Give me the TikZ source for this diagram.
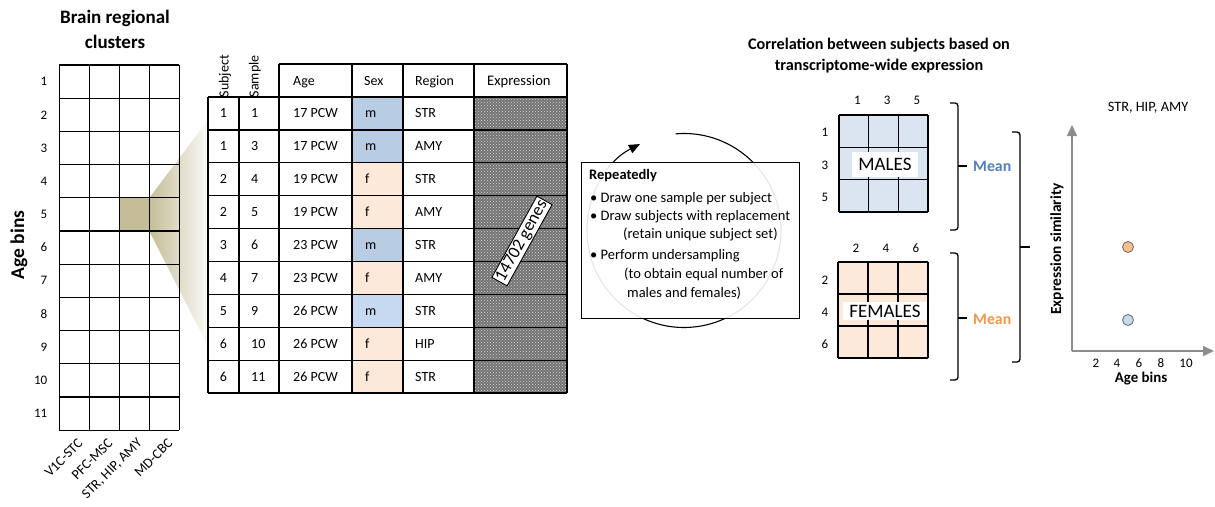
\documentclass[tikz,border=0pt]{standalone}
\usepackage{fontspec}
\setmainfont{Carlito}
\usepackage{xcolor}
\usepackage{tikz}
\usetikzlibrary{arrows.meta}
\usetikzlibrary{patterns}

\definecolor{maleblue}{RGB}{184,204,228}
\definecolor{malelight}{RGB}{198,217,241}
\definecolor{femalepeach}{RGB}{253,233,217}
\definecolor{matblue}{RGB}{219,229,241}
\definecolor{olivecell}{RGB}{196,189,151}
\definecolor{meanblue}{RGB}{79,129,189}
\definecolor{meanorange}{RGB}{247,150,70}
\definecolor{dotorange}{RGB}{250,191,143}
\definecolor{axisgray}{RGB}{140,140,140}

\begin{document}
\begin{tikzpicture}[
  x=1pt, y=-1pt,
  gridline/.style={line width=1.3pt},
  numlbl/.style={font=\fontsize{13}{15}\selectfont, inner sep=0pt},
  celltxt/.style={font=\fontsize{14}{16}\selectfont, inner sep=0pt, anchor=base west, yshift=-4.5pt},
  headtxt/.style={font=\fontsize{19}{25}\selectfont\bfseries, align=center, inner sep=0pt},
  boldlbl/.style={font=\fontsize{16.2}{21}\selectfont\bfseries, align=center, inner sep=0pt},
  steptxt/.style={font=\fontsize{14.5}{16}\selectfont, inner sep=0pt, anchor=base west, yshift=-4.6pt},
  brace/.style={line width=1.3pt, rounded corners=3pt},
  meantxt/.style={font=\fontsize{15.8}{17}\selectfont\bfseries, inner sep=0pt, anchor=west},
  matlabel/.style={fill=white, inner sep=0pt, font=\fontsize{19}{21}\selectfont},
  axis/.style={draw=axisgray, line width=1.4pt, -{Triangle[length=11pt, width=10pt]}},
  simdot/.style={circle, draw=black!60, line width=0.8pt, minimum size=11pt, inner sep=0pt},
]

\useasboundingbox [fill=white] (0,0) rectangle (1215,506);

% age bins x brain regions
\fill [olivecell] (119.3,198) rectangle (149.3,231.2);
\shade [left color=olivecell, right color=olivecell!8] (149.3,198) -- (208,120) -- (208,346) -- (149.3,231.2) -- cycle;
\foreach \i in {0,...,11}
  \draw [gridline] (59.3,65+33.2*\i) -- (179.3,65+33.2*\i);
\foreach \j in {0,...,4}
  \draw [gridline] (59.3+30*\j,65) -- (59.3+30*\j,430.2);
\foreach \i in {1,...,11}
  \node [numlbl, anchor=east] (bin\i) at (47.5,65+33.2*\i-16.6) {\i};
\foreach \name [count=\j] in {V1C-STC,PFC-MSC,{STR, HIP, AMY},MD-CBC}
  \node [numlbl, font=\fontsize{14}{16}\selectfont, rotate=45, anchor=east] (clus\j) at (50.3+30*\j,441) {\name};
\node [headtxt] (brain) at (115,29) {Brain regional\\clusters};
\node [headtxt, font=\fontsize{19.5}{22}\selectfont\bfseries, rotate=90] (agebins) at (19,245) {Age bins};

% sample table
\fill [black!55] (474,97) rectangle (567,393.1);
\fill [pattern=crosshatch dots, pattern color=white!85!black] (474,97) rectangle (567,393.1);
\foreach \subj/\samp/\age/\sex/\reg/\sexcol [count=\r] in {
  1/1/17/m/STR/maleblue, 1/3/17/m/AMY/maleblue, 2/4/19/f/STR/femalepeach,
  2/5/19/f/AMY/femalepeach, 3/6/23/m/STR/maleblue, 4/7/23/f/AMY/femalepeach,
  5/9/26/m/STR/malelight, 6/10/26/f/HIP/femalepeach, 6/11/26/f/STR/femalepeach}
{
  \fill [fill=\sexcol] (352,97+32.9*\r-32.9) rectangle (403,97+32.9*\r);
  \node [celltxt, anchor=base] (subj\r) at (223.5,97+32.9*\r-16.45) {\subj};
  \node [celltxt] (samp\r) at (251,97+32.9*\r-16.45) {\samp};
  \node [celltxt] (age\r) at (293,97+32.9*\r-16.45) {\age{} PCW};
  \node [celltxt] (sex\r) at (365,97+32.9*\r-16.45) {\sex};
  \node [celltxt] (reg\r) at (415,97+32.9*\r-16.45) {\reg};
}
\foreach \k in {0,...,9}
  \draw [gridline] (208,97+32.9*\k) -- (567,97+32.9*\k);
\draw [gridline] (279,64) -- (567,64);
\foreach \xx in {208,239}
  \draw [gridline] (\xx,97) -- (\xx,393.1);
\foreach \xx in {279,352,403,474,567}
  \draw [gridline] (\xx,64) -- (\xx,393.1);
\node [celltxt] (hage) at (293,80.5) {Age};
\node [celltxt] (hsex) at (364,80.5) {Sex};
\node [celltxt] (hreg) at (415,80.5) {Region};
\node [celltxt, font=\fontsize{14.6}{16}\selectfont] (hexpr) at (487,80.5) {Expression};
\node [celltxt, anchor=west, yshift=0pt, rotate=90] (hsubj) at (225,93) {Subject};
\node [celltxt, anchor=west, yshift=0pt, rotate=90] (hsamp) at (255,93) {Sample};
\node [draw, fill=white, line width=0.9pt, inner sep=1.5pt, rotate=61,
  font=\fontsize{17.5}{19}\selectfont] (genes) at (522,241) {14702 genes};

% resampling loop
\coordinate (loopc) at (684,230.5);
\draw [line width=1.1pt, -{Triangle[length=11pt, width=9pt]}] (loopc) ++(95:97pt)
  arc [start angle=95, end angle=-243, radius=97pt];
\node [draw, fill=white, fill opacity=0.9, line width=0.8pt,
  minimum width=218pt, minimum height=156pt] (loopbox) at (690,240) {};
\node [steptxt, font=\fontsize{14.5}{16}\selectfont\bfseries] (step0) at (589,175) {Repeatedly};
\foreach \yy/\xx/\txt [count=\n] in {
  198/590/{\textbullet\ Draw one sample per subject},
  216/590/{\textbullet\ Draw subjects with replacement},
  234/623/{(retain unique subject set)},
  255/590/{\textbullet\ Perform undersampling},
  274/624/{(to obtain equal number of},
  293/627/{males and females)}}
  \node [steptxt] (step\n) at (\xx,\yy) {\txt};

% correlation matrices
\node [boldlbl] (corrtitle) at (879,55.5) {Correlation between subjects based on\\transcriptome-wide expression};
\fill [matblue] (839,115) rectangle (928,212);
\fill [femalepeach] (838,262) rectangle (928,358);
\foreach \k in {0,...,3} {
  \draw [gridline] (839+29.67*\k,115) -- (839+29.67*\k,212);
  \draw [gridline] (839,115+32.33*\k) -- (928,115+32.33*\k);
  \draw [gridline] (838+30*\k,262) -- (838+30*\k,358);
  \draw [gridline] (838,262+32*\k) -- (928,262+32*\k);
}
\foreach \v [count=\k] in {1,3,5} {
  \node [numlbl] (mcol\k) at (824.8+29.67*\k+3,100) {\v};
  \node [numlbl] (mrow\k) at (825,115+32.33*\k-14.7) {\v};
}
\foreach \v [count=\k] in {2,4,6} {
  \node [numlbl] (fcol\k) at (826+30*\k,248) {\v};
  \node [numlbl] (frow\k) at (825,262+32*\k-14) {\v};
}
\node [matlabel, minimum width=66pt, minimum height=25pt] (males) at (885,164.5) {MALES};
\node [matlabel, minimum width=84pt, minimum height=18pt] (females) at (885,311) {FEMALES};

% means
\coordinate (mtop) at (950,103);
\coordinate (mmid) at (958,166);
\coordinate (mtip) at (967,166);
\coordinate (mbot) at (950,230);
\coordinate (ftop) at (950,253);
\coordinate (fmid) at (958,318);
\coordinate (ftip) at (967,318);
\coordinate (fbot) at (950,380);
\coordinate (btop) at (1012,132);
\coordinate (bmid) at (1020,247);
\coordinate (btip) at (1030,247);
\coordinate (bbot) at (1012,362);
\draw [brace] (mtop) -| (mmid) |- (mbot);
\draw [brace] (mmid) -- (mtip);
\draw [brace] (ftop) -| (fmid) |- (fbot);
\draw [brace] (fmid) -- (ftip);
\draw [brace] (btop) -| (bmid) |- (bbot);
\draw [brace] (bmid) -- (btip);
\node [meantxt, meanblue] (meanm) at (973,166) {Mean};
\node [meantxt, meanorange] (meanf) at (973,319) {Mean};

% similarity plot
\coordinate (origin) at (1072,351);
\coordinate (ytip) at (1072,125);
\coordinate (xtip) at (1214,351);
\draw [axis] (origin) -- (ytip);
\draw [axis] (origin) -- (xtip);
\foreach \v/\xx in {2/1096,4/1117,6/1139,8/1161,10/1186}
  \node [numlbl] (tick\v) at (\xx,363) {\v};
\node [boldlbl, font=\fontsize{14.9}{16}\selectfont\bfseries] (xlabel) at (1141,379) {Age bins};
\node [boldlbl, font=\fontsize{15.4}{17}\selectfont\bfseries, rotate=90] (ylabel) at (1057,249) {Expression similarity};
\node [numlbl, font=\fontsize{14.3}{16}\selectfont] (plottitle) at (1148,108) {STR, HIP, AMY};
\node [simdot, fill=dotorange] (femdot) at (1128,247) {};
\node [simdot, fill=malelight] (maledot) at (1128,320) {};

\end{tikzpicture}
\end{document}
